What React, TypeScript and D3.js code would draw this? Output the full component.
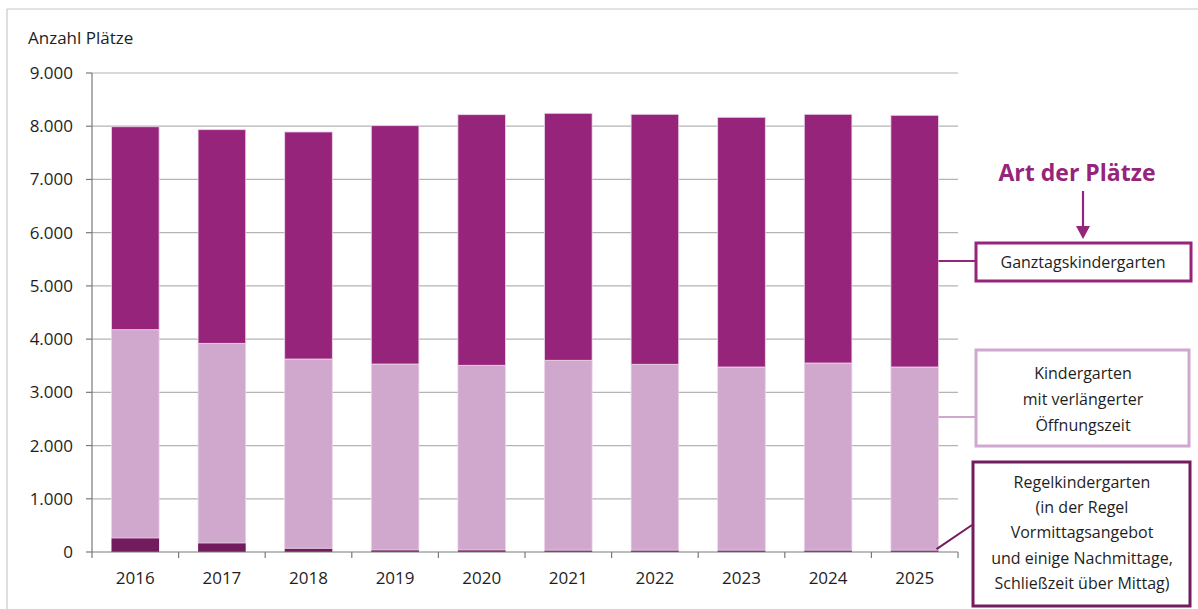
import React from "react";
import * as d3 from "d3";

const years = ["2016", "2017", "2018", "2019", "2020", "2021", "2022", "2023", "2024", "2025"];
const regelkindergarten = [263, 169, 70, 38, 38, 35, 35, 35, 35, 35];
const verlaengert = [3914, 3752, 3556, 3494, 3470, 3567, 3492, 3441, 3516, 3441];
const ganztags = [3813, 4014, 4266, 4478, 4709, 4641, 4697, 4692, 4673, 4729];
const yTicks = [0, 1000, 2000, 3000, 4000, 5000, 6000, 7000, 8000, 9000];
const seriesKeys = ["regel", "verl", "ganz"];
const seriesColors: Record<string, string> = { regel: "#731C5D", verl: "#D0A8CE", ganz: "#96247B" };

const W = 1198, H = 609;
const left = 92, right = 958, top = 73, bottom = 552;
const FONT = "'Open Sans', 'Noto Sans', sans-serif";
const TEXT = "#1e1e1e";

export default function App() {
  const data = years.map((y, i) => ({ year: y, regel: regelkindergarten[i], verl: verlaengert[i], ganz: ganztags[i] }));
  const x = d3.scaleBand().domain(years).range([left, right]).paddingInner(0.45).paddingOuter(0.225);
  const band = d3.scaleBand().domain(years).range([left, right]);
  const y = d3.scaleLinear().domain([0, 9000]).range([bottom, top]);
  const stacked = d3.stack<any>().keys(seriesKeys)(data);
  const fmt = (v: number) => (v === 0 ? "0" : d3.format(",")(v).replace(/,/g, "."));

  const lastX = (x(years[years.length - 1]) as number) + x.bandwidth();
  const last = stacked.map((s) => s[s.length - 1]);
  const magenta = "#96247B";

  return (
    <svg width={W} height={H} style={{ position: "absolute", left: 0, top: 0, background: "#fff" }} fontFamily={FONT}>
      {/* frame */}
      <line x1={7} y1={9} x2={W} y2={9} stroke="#c8c8c8" strokeWidth={1.2} />
      <line x1={7} y1={9} x2={7} y2={H} stroke="#c8c8c8" strokeWidth={1.2} />

      <text x={28} y={44} fontSize={17} fill={TEXT}>Anzahl Plätze</text>

      {/* gridlines */}
      {yTicks.filter((t) => t > 0).map((t) => (
        <line key={t} x1={left} x2={right} y1={y(t)} y2={y(t)} stroke="#b4b4b4" strokeWidth={1.2} />
      ))}

      {/* bars */}
      {stacked.map((s) => (
        <g key={s.key} fill={seriesColors[s.key]}>
          {s.map((d, i) => (
            <rect key={i} x={x(years[i])} width={x.bandwidth()} y={y(d[1])} height={y(d[0]) - y(d[1])}
              stroke={s.key === "regel" ? "none" : "#ecd6e8"} strokeWidth={0.8} />
          ))}
        </g>
      ))}

      {/* y axis */}
      <line x1={left} x2={left} y1={top} y2={bottom} stroke="#7a7a7a" strokeWidth={1.2} />
      {yTicks.map((t) => (
        <g key={t}>
          <line x1={left - 6} x2={left} y1={y(t)} y2={y(t)} stroke="#7a7a7a" strokeWidth={1.2} />
          <text x={73} y={y(t)} dy="0.35em" textAnchor="end" fontSize={17} fill={TEXT}>{fmt(t)}</text>
        </g>
      ))}

      {/* x axis */}
      <line x1={left} x2={right} y1={bottom} y2={bottom} stroke="#7a7a7a" strokeWidth={1.2} />
      {years.map((yr) => (
        <line key={"t" + yr} x1={band(yr)} x2={band(yr)} y1={bottom} y2={bottom + 6} stroke="#7a7a7a" strokeWidth={1.2} />
      ))}
      <line x1={right} x2={right} y1={bottom} y2={bottom + 6} stroke="#7a7a7a" strokeWidth={1.2} />
      {years.map((yr) => (
        <text key={"l" + yr} x={(x(yr) as number) + x.bandwidth() / 2} y={578} dy="0.35em" textAnchor="middle" fontSize={17} fill={TEXT}>{yr}</text>
      ))}

      {/* legend title */}
      <text x={1077} y={181} textAnchor="middle" fontSize={23} fontWeight="bold" fill={magenta}>Art der Plätze</text>
      <line x1={1083} x2={1083} y1={191} y2={232} stroke={magenta} strokeWidth={2.2} />
      <path d="M1076,226 L1083,239 L1090,226 Z" fill={magenta} />

      {/* Ganztag */}
      <line x1={lastX} x2={975} y1={261} y2={261} stroke={magenta} strokeWidth={2} />
      <rect x={976} y={243} width={215} height={38} fill="#fff" stroke={magenta} strokeWidth={3} />
      <text x={1083} y={262} dy="0.35em" textAnchor="middle" fontSize={16} fill={TEXT}>Ganztagskindergarten</text>

      {/* Verlängert */}
      <line x1={lastX} x2={975} y1={417} y2={417} stroke="#D0A8CE" strokeWidth={2} />
      <rect x={976} y={350} width={213} height={96} fill="#fff" stroke="#D0A8CE" strokeWidth={3} />
      {["Kindergarten", "mit verlängerter", "Öffnungszeit"].map((t, i) => (
        <text key={t} x={1083} y={373 + i * 26} dy="0.35em" textAnchor="middle" fontSize={16} fill={TEXT}>{t}</text>
      ))}

      {/* Regel */}
      <line x1={lastX - 2} y1={y(last[0][1]) - 1} x2={972} y2={525} stroke="#731C5D" strokeWidth={2} />
      <rect x={973} y={462} width={217} height={144} fill="#fff" stroke="#731C5D" strokeWidth={3} />
      {["Regelkindergarten", "(in der Regel", "Vormittagsangebot", "und einige Nachmittage,", "Schließzeit über Mittag)"].map((t, i) => (
        <text key={t} x={1082} y={482 + i * 25.3} dy="0.35em" textAnchor="middle" fontSize={16} fill={TEXT}>{t}</text>
      ))}
    </svg>
  );
}
